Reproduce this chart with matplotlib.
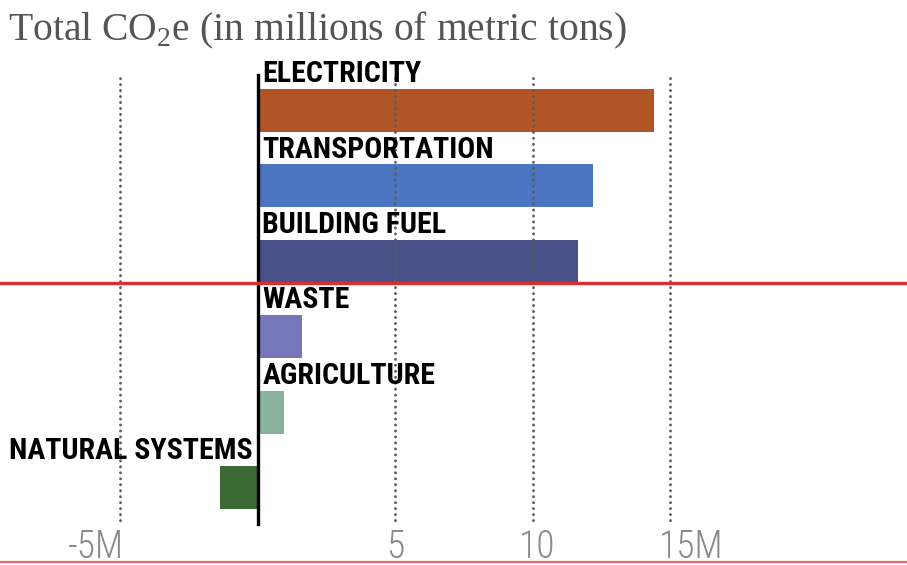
import matplotlib
matplotlib.use("Agg")
import matplotlib.pyplot as plt
import matplotlib.transforms as mtransforms

#############################################
# Total CO2e by sector (millions of metric tons)
#############################################

categories = ["ELECTRICITY", "TRANSPORTATION", "BUILDING FUEL",
              "WASTE", "AGRICULTURE", "NATURAL SYSTEMS"]
values = [14.4, 12.2, 11.65, 1.6, 0.95, -1.35]
colors = ["#b15526", "#4b74c1", "#4a5188", "#7677b9", "#89b49b", "#3c6a34"]

tick_values = [-5, 5, 10, 15]
tick_labels = ["-5M", "5", "10", "15M"]

title = r"Total CO$_\mathrm{2}$e (in millions of metric tons)"

#--------------------
# fonts
#--------------------
plt.rcParams["mathtext.fontset"] = "custom"
plt.rcParams["mathtext.rm"] = "Liberation Serif"
label_font = ["Roboto Condensed", "DejaVu Sans"]

fig = plt.figure(figsize=(9.07, 5.65), dpi=100)
ax = fig.add_axes([0, 0, 1, 1])
ax.set_xlim(-9.364, 23.618)
ax.set_ylim(6.028, -1.466)
ax.axis("off")

ypos = list(range(len(categories)))
bar_h = 0.57

# bars
ax.barh(ypos, values, height=bar_h, color=colors, zorder=2)

# dotted gridlines, drawn over the bars
for tv in tick_values:
    ax.plot([tv, tv], [-0.431, 5.47], color="#5a5a5a", lw=2.0,
            linestyle=(0, (0.1, 2.05)), dash_capstyle="round", zorder=3)

# zero line
ax.plot([0, 0], [-0.471, 5.484], color="black", lw=2.4, zorder=4)

# red separator between energy and other sectors
ax.axhline(2.29, color="#d8302e", lw=2.4, zorder=5)

# bottom rule
ax.axhline(5.99, color="#e06a6a", lw=1.6, zorder=5)

# category labels
for y, cat, v in zip(ypos, categories, values):
    if v >= 0:
        ax.text(0.17, y - bar_h / 2 - 0.09, cat, ha="left", va="baseline",
                family=label_font, stretch="condensed", weight="bold",
                fontsize=21.5, color="black", zorder=6)
    else:
        ax.text(-0.17, y - bar_h / 2 - 0.09, cat, ha="right", va="baseline",
                family=label_font, stretch="condensed", weight="bold",
                fontsize=21.5, color="black", zorder=6)

# tick labels
trans = mtransforms.blended_transform_factory(ax.transData, fig.transFigure)
aligns = {"-5M": "right", "5": "center", "10": "center", "15M": "left"}
offsets = {"-5M": 0.15, "5": 0.0, "10": 0.15, "15M": -0.4}
for tv, tl in zip(tick_values, tick_labels):
    ax.text(tv + offsets[tl], 1 - 558 / 565, tl, transform=trans,
            ha=aligns[tl], va="baseline", family=label_font,
            stretch="condensed", weight="light",
            fontsize=27, color="#8a8a8a")

# title
fig.text(8 / 907, 1 - 40 / 565, title, ha="left", va="baseline",
         family="Liberation Serif", fontsize=28.5, color="#555555")

fig.savefig("out.png", dpi=100)
